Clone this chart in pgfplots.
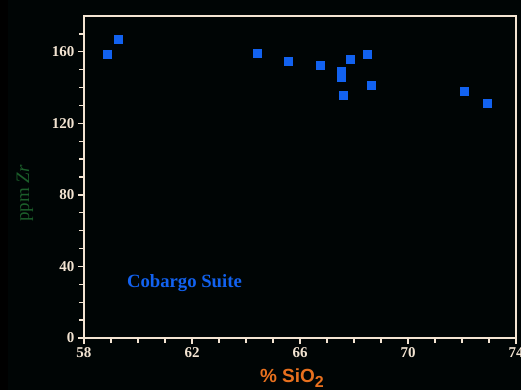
\documentclass[border=0pt]{standalone}
\usepackage{pgfplots}
\pgfplotsset{compat=1.18}
\usetikzlibrary{calc}
\usepackage{fontspec}
\setmainfont{Liberation Serif}
\newfontfamily\labelsans{Liberation Sans}
\definecolor{axcream}{HTML}{F3E4D2}
\definecolor{ptblue}{HTML}{1262F0}
\definecolor{ylab}{HTML}{1B5E2A}
\definecolor{xlab}{HTML}{E8701E}
\begin{document}
\begin{tikzpicture}[x=1pt,y=1pt]
\path[use as bounding box] (-84,-52) rectangle (437,338);
\fill[black] (-84,-52) rectangle (437,338);
\fill[black!85!teal!25!black] (-76,-52) rectangle (437,338);
\begin{axis}[
  at={(0,0)}, anchor=south west,
  scale only axis, width=432pt, height=322pt,
  xmin=58, xmax=74, ymin=0, ymax=180,
  xtick={58,62,66,70,74}, ytick={0,40,80,120,160},
  minor xtick={59,60,61,63,64,65,67,68,69,71,72,73},
  minor ytick={10,20,30,50,60,70,90,100,110,130,140,150,170},
  xtick pos=bottom, ytick pos=left,
  tick align=outside,
  major tick length=6pt, minor tick length=5pt,
  every tick/.style={axcream, line width=1.4pt},
  axis line style={axcream, line width=2pt},
  /pgf/number format/assume math mode=true,
  ticklabel style={font=\fontsize{15}{15}\selectfont\bfseries, text=axcream},
  yticklabel style={xshift=0pt},
  xticklabel style={yshift=0pt},
  xlabel={\% SiO\textsubscript{\fontsize{16}{16}\selectfont 2}},
  ylabel={ppm \textit{Zr}},
  xlabel style={font=\labelsans\bfseries\fontsize{19}{19}\selectfont, text=xlab,
    at={(rel axis cs:0.482,0)}, anchor=center, yshift=-40pt},
  ylabel style={font=\fontsize{19}{19}\selectfont, text=ylab,
    at={($(rel axis cs:0,0.449)+(-59pt,0)$)}, anchor=center, rotate=0},
  clip=false,
]
\addplot[only marks, mark=square*, mark size=4pt, ptblue, mark options={draw=ptblue, fill=ptblue}]
coordinates {
(58.85,158.9) (59.26,167.3) (64.42,159.3) (65.57,154.6) (66.74,152.4)
(67.85,156.1) (68.49,158.5) (67.51,149.0) (67.51,145.8) (68.65,141.5)
(67.60,135.9) (72.09,137.8) (72.95,131.3)
};
\node[text=ptblue, font=\fontsize{18.7}{18.7}\selectfont\bfseries, anchor=center] at (axis cs:61.72,30.8) {Cobargo Suite};
\end{axis}
\end{tikzpicture}
\end{document}
